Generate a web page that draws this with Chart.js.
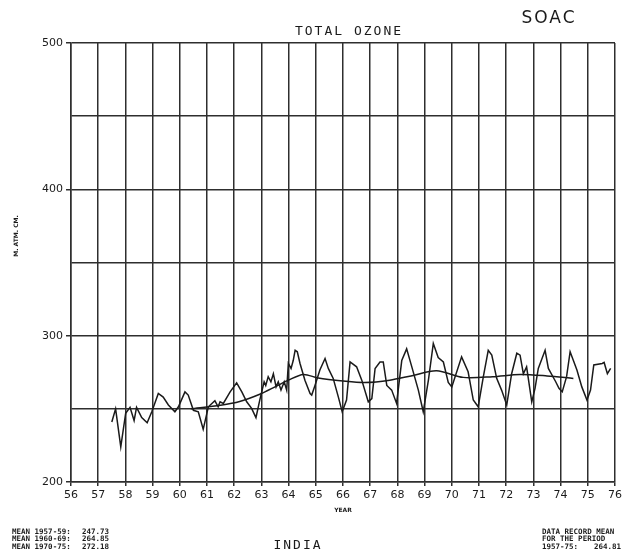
<!DOCTYPE html>
<html>
<head>
<meta charset="utf-8">
<script src="https://cdn.jsdelivr.net/npm/chart.js@4/dist/chart.umd.min.js"></script>
<style>
  html, body { margin: 0; padding: 0; background: #fff; }
  canvas { display: block; }
</style>
</head>
<body>
<canvas id="ozone" width="629" height="558"></canvas>
<script>
// monthly-ish total ozone record, India (year offset from 1900)
const obsYears = [
  57.50, 57.64, 57.83, 58.01, 58.17, 58.32, 58.41, 58.60, 58.80, 58.97,
  59.21, 59.39, 59.58, 59.82, 59.95, 60.19, 60.31, 60.50, 60.68, 60.86,
  61.05, 61.29, 61.41, 61.48, 61.60, 61.85, 62.09, 62.28, 62.46, 62.64,
  62.80, 62.94, 63.10, 63.16, 63.25, 63.35, 63.44, 63.54, 63.62, 63.72,
  63.84, 63.93, 63.99, 64.09, 64.17, 64.24, 64.32, 64.42, 64.60, 64.79,
  64.85, 64.97, 65.15, 65.34,
  65.46, 65.64, 65.83, 65.97, 66.13, 66.26, 66.50, 66.69, 66.93, 67.06,
  67.18, 67.36, 67.48, 67.61, 67.79, 67.97, 68.16, 68.34, 68.53, 68.77,
  68.95, 69.14, 69.32, 69.50, 69.69, 69.87, 70.00, 70.36, 70.60, 70.79,
  70.97, 71.16, 71.34, 71.47, 71.65, 71.83, 72.02, 72.20, 72.39, 72.51,
  72.63, 72.75, 72.94, 73.06, 73.18, 73.43, 73.55, 73.82, 73.94, 74.06,
  74.22, 74.35, 74.47, 74.60, 74.78, 74.97, 75.10, 75.22, 75.53, 75.60,
  75.72, 75.84
];
const obsOzone = [
  241, 250, 224, 247, 251, 242, 251, 244, 240.5, 248,
  260.5, 258, 252.6, 248, 251.4, 261.6, 259.4, 249, 248, 236,
  251.4, 255.5, 251.4, 254.8, 253.7, 261.6, 267.8, 261.6, 254.8, 250.3,
  244, 256, 268.5, 266, 272, 268.5, 274, 265, 268.5, 262.8,
  268.5, 262.8, 281, 277.6, 283, 290, 289, 281, 269.6, 260.5,
  259.4, 266, 276.5, 284.4,
  277.6, 270.8, 258, 248, 256, 282, 278.7, 269.6, 254.8, 257,
  277.6, 282, 282, 266, 262.8, 253.7, 283, 291, 278.7, 262.8,
  248, 269.6, 294.7, 285, 282, 268, 265, 285.5, 275.3, 256,
  251.4, 272, 290, 286.7, 270.8, 262.8, 252.6, 274, 288, 286.7,
  274, 278.7, 254.8, 264, 277.6, 290, 277.6, 268.5, 264, 261.6,
  272, 289, 283, 276.5, 265, 256, 262.8, 280, 281, 281.7,
  274, 277.6
];

// running mean
const trendYears = [60.4, 61.5, 62.2, 62.94, 63.5, 63.99, 64.54, 65.09, 66.0, 66.8, 67.72, 68.5, 69.44, 70.42, 71.5, 72.51, 73.5, 74.47];
const trendOzone = [250, 252.5, 255, 260, 265, 269.6, 273.5, 271, 269, 268, 269.6, 272.5, 276, 271.5, 272, 273.5, 272.5, 270.8];

const meanLabels = ["MEAN 1957-59:", "MEAN 1960-69:", "MEAN 1970-75:"];
const meanValues = ["247.73", "264.85", "272.18"];
const recordLines = ["DATA RECORD MEAN", "FOR THE PERIOD", "1957-75:"];
const recordMean = "264.81";

const ink = "#1a1a1a";
const gridInk = "#2e2e2e";

function pts(xs, ys) {
  return xs.map((x, i) => ({ x: x, y: ys[i] }));
}

// all the loose plotter lettering round the frame
const lettering = {
  id: "lettering",
  afterDraw(chart) {
    const ctx = chart.ctx;
    ctx.save();
    ctx.fillStyle = ink;
    ctx.textBaseline = "middle";

    ctx.textAlign = "center";
    ctx.letterSpacing = "2px";
    ctx.font = "13px 'DejaVu Sans Mono'";
    ctx.fillText("TOTAL OZONE", 349, 32);
    ctx.fillText("INDIA", 298, 546);
    ctx.font = "17px 'DejaVu Sans'";
    ctx.fillText("SOAC", 549, 19);

    ctx.letterSpacing = "0px";
    ctx.font = "bold 6px 'DejaVu Sans'";
    ctx.fillText("YEAR", 343, 510);

    ctx.save();
    ctx.translate(16, 236);
    ctx.rotate(-Math.PI / 2);
    ctx.fillText("M. ATM. CM.", 0, 0);
    ctx.restore();

    ctx.textAlign = "left";
    ctx.font = "bold 7.5px 'DejaVu Sans Mono'";
    meanLabels.forEach((t, i) => {
      ctx.fillText(t, 12, 532 + i * 7.5);
      ctx.fillText(meanValues[i], 82, 532 + i * 7.5);
    });
    recordLines.forEach((t, i) => {
      ctx.fillText(t, 542, 532 + i * 7.5);
    });
    ctx.fillText(recordMean, 594, 532 + 2 * 7.5);
    ctx.restore();
  }
};

new Chart(document.getElementById("ozone"), {
  type: "line",
  data: {
    datasets: [
      {
        data: pts(obsYears, obsOzone),
        borderColor: ink,
        borderWidth: 1.5,
        pointRadius: 0,
        tension: 0
      },
      {
        data: pts(trendYears, trendOzone),
        borderColor: ink,
        borderWidth: 1.5,
        pointRadius: 0,
        tension: 0.3
      }
    ]
  },
  options: {
    responsive: false,
    animation: false,
    devicePixelRatio: 1,
    layout: { padding: { top: 43, right: 14, left: 0, bottom: 0 } },
    plugins: {
      legend: { display: false },
      tooltip: { enabled: false }
    },
    scales: {
      x: {
        type: "linear",
        min: 56,
        max: 76,
        afterFit: s => { s.height = 76; },
        ticks: {
          stepSize: 1,
          color: ink,
          padding: 3,
          font: { family: "DejaVu Sans", size: 11 },
          maxRotation: 0,
          autoSkip: false
        },
        grid: { color: gridInk, lineWidth: 1.5, tickLength: 4, tickColor: gridInk },
        border: { color: gridInk, width: 1.5 }
      },
      y: {
        min: 200,
        max: 500,
        afterFit: s => { s.width = 71; },
        ticks: {
          stepSize: 50,
          color: ink,
          padding: 3,
          font: { family: "DejaVu Sans", size: 11 },
          callback: v => (v % 100 === 0 ? v : "")
        },
        grid: {
          color: gridInk,
          lineWidth: 1.5,
          tickLength: 5,
          tickColor: c => (c.tick && c.tick.value % 100 === 0 ? gridInk : "rgba(0,0,0,0)")
        },
        border: { color: gridInk, width: 1.5 }
      }
    }
  },
  plugins: [lettering]
});
</script>
</body>
</html>
